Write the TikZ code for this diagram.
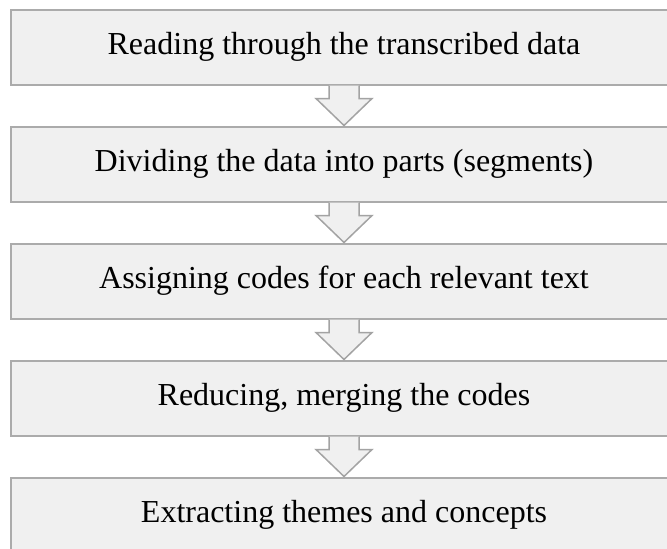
\documentclass[tikz,border=0pt]{standalone}
\usepackage{fontspec}
\setmainfont{Liberation Serif}
\usetikzlibrary{positioning, calc}

\definecolor{boxfill}{HTML}{F0F0F0}
\definecolor{boxline}{HTML}{ABABAB}
\definecolor{arrowline}{HTML}{A3A3A3}

\begin{document}
\begin{tikzpicture}[
    x=1pt, y=1pt,
    stepbox/.style={rectangle,draw=boxline,fill=boxfill,line width=2pt,
        minimum width=666pt,minimum height=75pt,inner sep=0pt,
        font=\fontsize{32}{38}\selectfont},
    hollowarrow/.style={draw=arrowline,fill=boxfill,line width=1.5pt,
        line join=miter}
]
\clip (0,0) rectangle (667,-549);
\node[stepbox] at (344,-47) (s1) {Reading through the transcribed data};
\node[stepbox, below=40pt of s1] (s2) {Dividing the data into parts (segments)};
\node[stepbox, below=40pt of s2] (s3) {Assigning codes for each relevant text};
\node[stepbox, below=40pt of s3] (s4) {Reducing, merging the codes};
\node[stepbox, below=40pt of s4] (s5) {Extracting themes and concepts};
% hollow down arrows between the steps
\foreach \a/\b in {s1/s2, s2/s3, s3/s4, s4/s5}
    \draw[hollowarrow] ($(\a.south)+(-15,0)$) -- ++(0,-13) -- ++(-13,0)
        -- (\b.north) -- ($(\a.south)+(28,-13)$) -- ++(-13,0)
        -- ($(\a.south)+(15,0)$);
\end{tikzpicture}
\end{document}
